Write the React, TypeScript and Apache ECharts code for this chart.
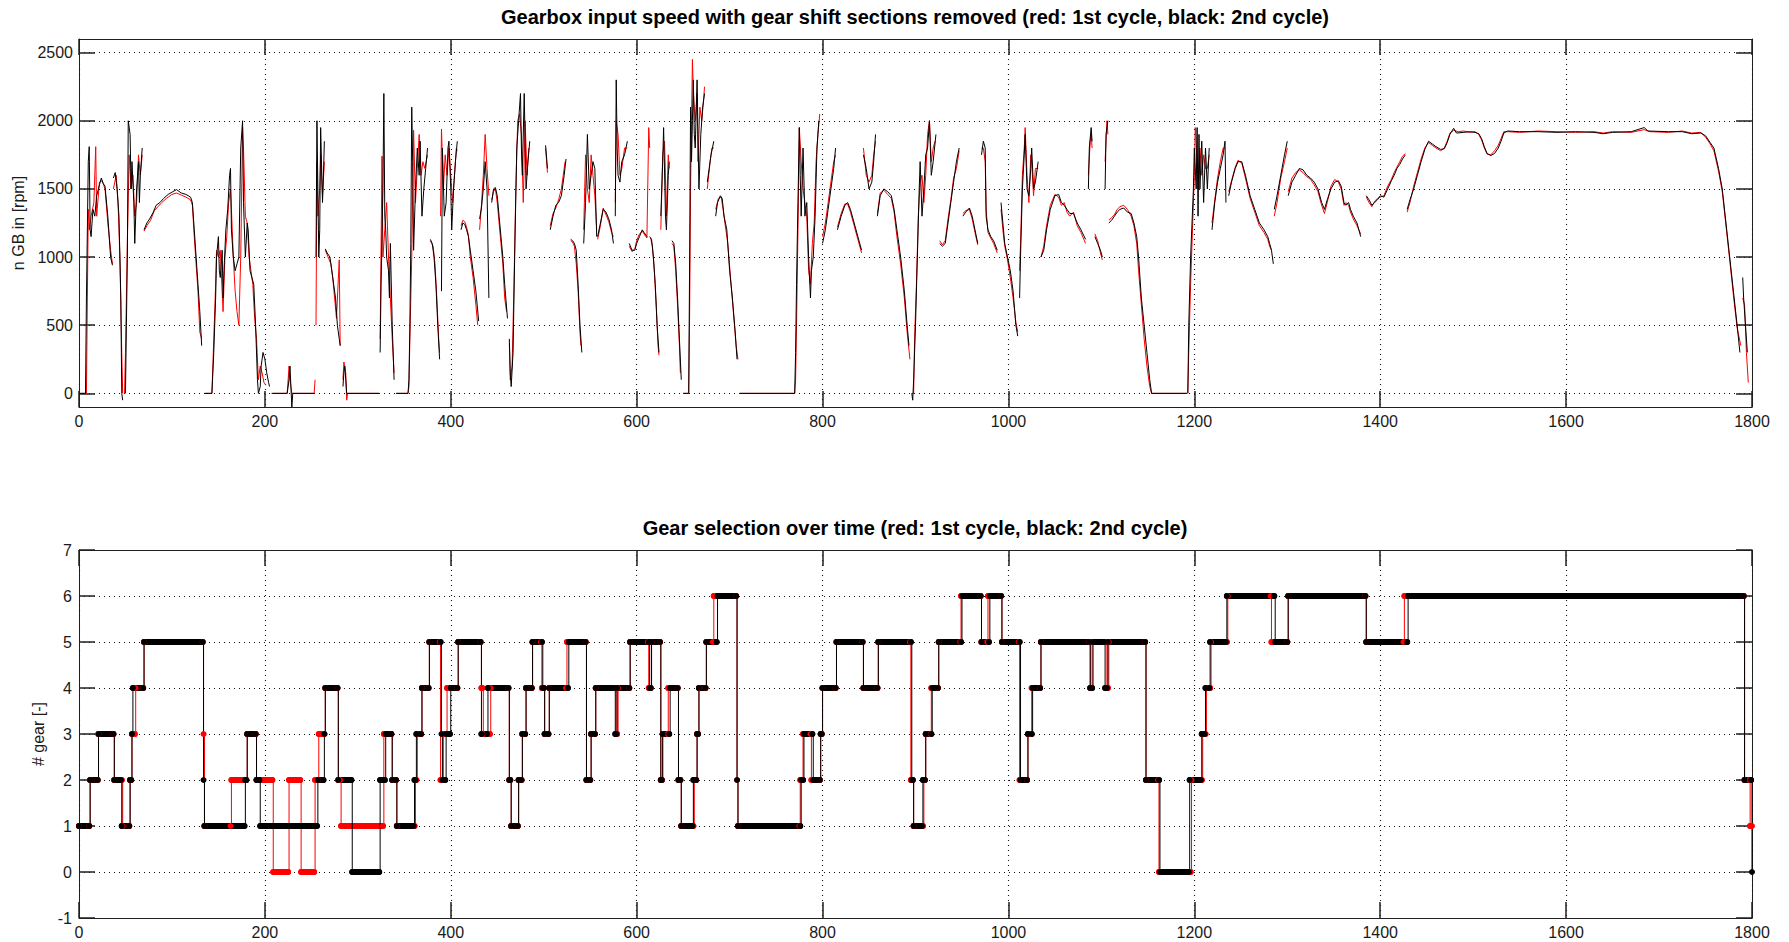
import React, { useEffect, useRef } from 'react';
import * as echarts from 'echarts';

// ---------- DATA ----------
const TIME_TICKS = [0, 200, 400, 600, 800, 1000, 1200, 1400, 1600, 1800];
const SPEED_TICKS = [0, 500, 1000, 1500, 2000, 2500];
const GEAR_TICKS = [-1, 0, 1, 2, 3, 4, 5, 6, 7];

const TITLE_SPEED = 'Gearbox input speed with gear shift sections removed (red: 1st cycle, black: 2nd cycle)';
const TITLE_GEAR = 'Gear selection over time (red: 1st cycle, black: 2nd cycle)';
const NAME_SPEED = 'n GB in [rpm]';
const NAME_GEAR = '# gear [-]';

// gearbox input speed, 2nd cycle (black): segments of [time s, rpm]
const speedCycle2: number[][][] = [
  [[0,0],[7,0],[8,700],[10,1700],[11,1810],[12,1200],[13,1150],[15,1350],[17,1300],[19,1450],[22,1530],[24,1580],[26,1540],[28,1520],[31,1300],[34,1000],[36,940]],
  [[37,1580],[39,1620],[41,1500],[43,1300],[45,700],[46,0],[47,-50]],
  [[50,0],[51,500],[52,1000],[53,2000],[55,1900],[56,1500],[57,1700],[59,1400],[60,1100],[62,1500],[64,1700],[65,1400],[66,1600],[68,1800]],
  [[70,1200],[73,1250],[76,1280],[80,1330],[83,1380],[87,1400],[91,1430],[96,1460],[101,1480],[105,1495],[110,1470],[115,1460],[120,1440],[122,1400],[124,1200],[126,1000],[128,800],[130,600],[132,350]],
  [[135,0],[143,0],[145,300],[147,700],[148,1000],[150,1150],[151,900],[152,850],[154,1050],[155,700],[156,900],[158,1200],[160,1350],[162,1600],[163,1650],[164,1200],[166,1000],[168,900],[170,950],[172,1000],[174,1800],[176,2000],[177,1400],[179,1000],[181,1250],[182,1200],[184,900],[186,850],[188,800],[190,500],[192,100],[193,0],[195,50],[196,200],[198,300],[200,250],[202,150],[204,80],[205,50]],
  [[208,0],[224,0],[226,100],[227,200],[228,50],[229,-100],[230,0],[253,0]],
  [[255,1000],[256,2000],[257,1500],[258,1000],[259,1200],[260,1950],[262,1400],[263,1600],[264,1850]],
  [[265,1060],[267,1030],[270,1000],[272,900],[274,800],[276,700],[278,500],[280,400],[281,350]],
  [[284,50],[285,150],[286,200],[287,100],[288,0],[323,0]],
  [[324,300],[325,800],[327,1500],[328,2200],[329,1300],[330,1200],[331,1000],[333,900],[334,700],[335,1100],[337,500],[339,100]],
  [[341,0],[354,0],[355,100],[356,500],[357,1100],[358,2100],[359,1700],[360,1050],[362,1500],[364,1800],[366,1600],[367,1850],[369,1300],[371,1500],[373,1650],[375,1800]],
  [[378,1130],[380,1100],[382,1000],[384,800],[386,500],[388,250]],
  [[390,750],[391,1800],[393,1300],[395,1400],[397,1800],[398,1850],[400,1500],[401,1200],[403,1500],[405,1700],[407,1850]],
  [[411,1200],[413,1250],[415,1240],[417,1200],[419,1150],[421,1050],[424,900],[427,750],[430,530]],
  [[431,1280],[433,1360],[435,1500],[437,1700],[439,1500],[441,700]],
  [[444,1400],[446,1500],[448,1510],[450,1450],[452,1300],[454,1150],[456,1000],[458,800],[461,550]],
  [[463,400],[464,150],[465,50],[467,300],[469,1100],[471,1800],[473,2000],[475,2200],[476,1800],[477,1600],[479,2200],[481,1500],[483,1700],[485,1850]],
  [[502,1820],[504,1650]],
  [[507,1200],[510,1300],[513,1380],[516,1400],[519,1450],[522,1600],[524,1720]],
  [[529,1130],[531,1120],[533,1100],[535,1050],[537,800],[539,500],[541,300]],
  [[543,1100],[545,1400],[547,1900],[549,1500],[551,1600],[553,1700],[555,1650],[557,1150]],
  [[558,1150],[561,1250],[564,1350],[567,1330],[570,1280],[573,1200],[575,1100]],
  [[577,1300],[578,2300],[579,1800],[580,1600],[582,1550],[584,1700],[587,1750],[590,1850]],
  [[592,1100],[595,1050],[598,1050],[600,1100],[603,1150],[606,1200],[608,1180],[611,1150]],
  [[614,1150],[616,1130],[618,1000],[620,800],[622,500],[624,300]],
  [[626,1300],[628,1700],[629,1950],[631,1300],[632,1200],[634,1600],[635,1700]],
  [[638,1120],[640,1100],[642,950],[644,700],[646,400],[648,100]],
  [[650,0],[656,0],[657,1000],[658,2100],[659,1700],[660,2000],[661,2300],[662,1900],[663,1800],[665,2300],[667,1500],[669,1900],[671,2100],[673,2200]],
  [[676,1550],[678,1650],[680,1750],[683,1850]],
  [[685,1300],[687,1400],[690,1450],[692,1430],[694,1300],[697,1200],[700,900],[703,700],[706,450],[708,250]],
  [[711,0],[770,0],[771,300],[772,800],[773,1200],[775,1950],[776,1600],[777,1300],[779,1800],[781,1300],[783,1400],[785,1000],[787,700],[788,900],[790,1000],[792,1300],[794,1800],[796,2000]],
  [[800,1100],[803,1200],[806,1350],[809,1500],[812,1650],[814,1800]],
  [[816,1200],[820,1300],[824,1380],[827,1400],[830,1350],[834,1250],[838,1150],[842,1050]],
  [[844,1750],[847,1650],[850,1500],[853,1550],[855,1700],[857,1900]],
  [[859,1300],[862,1450],[866,1500],[870,1480],[874,1450],[877,1350],[880,1200],[884,1000],[888,750],[891,500],[893,350]],
  [[896,0],[897,-50],[898,100],[900,500],[902,1000],[904,1500],[905,1700],[907,1300],[909,1500],[911,1750],[913,1800],[915,2000],[917,1600],[919,1700],[922,1900]],
  [[926,1100],[929,1080],[932,1100],[935,1250],[938,1400],[941,1550],[944,1700],[947,1800]],
  [[951,1300],[954,1330],[958,1360],[961,1300],[964,1200],[967,1100]],
  [[971,1750],[973,1850],[975,1800],[976,1300],[978,1200],[981,1150],[984,1120],[988,1050]],
  [[992,1400],[994,1250],[996,1100],[999,1000],[1002,900],[1005,750],[1008,500],[1010,420]],
  [[1012,700],[1013,1000],[1015,1500],[1017,1750],[1018,1900],[1020,1500],[1022,1450],[1024,1650],[1025,1800],[1027,1500],[1029,1550],[1032,1700]],
  [[1035,1000],[1038,1050],[1041,1200],[1045,1350],[1050,1450],[1054,1460],[1057,1400],[1060,1380],[1063,1350],[1066,1320],[1070,1320],[1074,1250],[1078,1200],[1083,1130]],
  [[1086,1500],[1087,1800],[1089,1950],[1090,1850]],
  [[1093,1150],[1096,1100],[1099,1050],[1101,1000]],
  [[1104,1500],[1105,1900],[1107,2000]],
  [[1108,1250],[1111,1270],[1114,1300],[1117,1330],[1120,1350],[1124,1360],[1128,1330],[1132,1320],[1135,1250],[1138,1150],[1140,1000],[1143,700],[1146,500],[1149,300],[1152,100],[1154,0],[1192,0]],
  [[1193,0],[1194,500],[1196,1000],[1199,1500],[1200,1800],[1202,1500],[1203,1950],[1204,1300],[1205,1900],[1206,1500],[1208,1850],[1210,1400],[1212,1800],[1214,1500],[1216,1800]],
  [[1219,1200],[1222,1400],[1225,1550],[1228,1650],[1231,1750],[1233,1850],[1234,1400]],
  [[1237,1450],[1240,1550],[1244,1650],[1247,1700],[1251,1700],[1255,1600],[1260,1450],[1265,1350],[1270,1250],[1275,1200],[1279,1150],[1281,1100],[1283,1050],[1285,950]],
  [[1286,1350],[1289,1450],[1293,1600],[1297,1750],[1300,1850]],
  [[1301,1450],[1305,1550],[1309,1600],[1313,1650],[1317,1640],[1321,1600],[1325,1580],[1329,1550],[1333,1500],[1337,1400],[1340,1350],[1343,1420],[1347,1500],[1351,1550],[1355,1560],[1358,1520],[1361,1400],[1363,1380],[1366,1400],[1368,1350],[1371,1300],[1375,1250],[1379,1150]],
  [[1385,1450],[1388,1420],[1391,1380],[1394,1400],[1397,1420],[1400,1450],[1404,1440],[1408,1500],[1412,1560],[1415,1600],[1418,1650],[1421,1680],[1424,1720],[1427,1750]],
  [[1429,1350],[1432,1420],[1436,1500],[1440,1600],[1444,1700],[1448,1790],[1452,1850],[1456,1830],[1460,1810],[1465,1790],[1469,1795],[1472,1840],[1475,1900],[1479,1945],[1482,1910],[1490,1915],[1496,1920],[1502,1915],[1506,1905],[1509,1870],[1512,1810],[1515,1760],[1519,1745],[1523,1760],[1527,1800],[1530,1850],[1533,1910],[1537,1925],[1550,1920],[1570,1920],[1590,1915],[1610,1920],[1630,1915],[1640,1905],[1650,1915],[1670,1920],[1684,1950],[1688,1925],[1710,1920],[1725,1920],[1735,1905],[1745,1910],[1750,1890],[1755,1840],[1759,1800],[1764,1650],[1768,1500],[1772,1250],[1776,1000],[1780,750],[1784,500],[1787,300]],
  [[1790,850],[1791,700],[1793,500],[1795,300]],
];

// gearbox input speed, 1st cycle (red)
const speedCycle1: number[][][] = [
  [[0,0],[8,0],[9,700],[10,1350],[11,1200],[13,1300],[16,1400],[18,1810],[19,1300],[22,1550],[25,1560],[28,1500],[31,1250],[34,1050],[36,950]],
  [[37,1500],[40,1600],[42,1400],[44,1000],[46,300],[47,0]],
  [[49,0],[50,300],[51,700],[52,1100],[54,1750],[56,1500],[58,1600],[60,1300],[62,1400],[64,1750],[66,1600],[68,1750]],
  [[70,1190],[73,1230],[77,1270],[81,1340],[85,1370],[89,1400],[94,1430],[100,1460],[105,1470],[110,1455],[115,1440],[120,1420],[122,1380],[124,1150],[126,950],[128,750],[130,450],[132,400]],
  [[136,0],[143,0],[145,400],[147,800],[148,1050],[150,1000],[152,1050],[154,750],[155,600],[157,1000],[159,1150],[161,1400],[163,1500],[164,1350],[166,1000],[168,750],[170,600],[172,500],[174,1000],[176,1950],[177,1800],[179,1300],[181,1250],[183,1000],[185,900],[187,800],[189,550],[191,400],[193,100],[195,200],[197,150],[199,80],[201,60]],
  [[207,0],[224,0],[226,200],[227,100],[229,0],[253,0],[254,100]],
  [[255,500],[256,1700],[257,1300],[259,1500],[260,1750],[262,1450],[264,1700]],
  [[265,1050],[268,1000],[271,950],[273,850],[275,700],[277,550],[280,980],[281,350]],
  [[284,100],[285,230],[287,150],[288,-50],[289,0],[323,0]],
  [[324,400],[326,1740],[327,1000],[329,1200],[331,1400],[333,1000],[335,700],[337,400],[339,150]],
  [[342,0],[354,0],[355,50],[356,400],[358,1000],[360,1930],[362,1400],[364,1650],[366,1900],[368,1600],[370,1700],[372,1650],[375,1750]],
  [[378,1120],[381,1080],[383,950],[385,700],[387,400],[388,300]],
  [[389,1300],[390,1940],[392,1500],[394,1750],[396,1600],[398,1800],[400,1600],[402,1400],[404,1600],[406,1800],[407,1780]],
  [[411,1230],[413,1270],[415,1260],[417,1220],[419,1160],[421,1000],[424,850],[427,650],[429,500]],
  [[431,1200],[433,1380],[435,1600],[437,1900],[439,1650],[441,1450]],
  [[444,1420],[446,1480],[448,1500],[450,1400],[452,1250],[454,1100],[456,950],[458,700],[460,600]],
  [[463,370],[464,100],[466,200],[468,800],[470,1500],[472,2000],[474,2050],[476,1900],[478,1400],[480,2000],[482,1600],[484,1800]],
  [[502,1800],[504,1620]],
  [[507,1230],[510,1320],[513,1360],[516,1420],[519,1500],[522,1650],[523,1700]],
  [[529,1120],[531,1110],[533,1080],[535,950],[537,750],[539,450],[540,350]],
  [[543,1200],[545,1750],[547,1500],[549,1400],[551,1750],[553,1600],[555,1450],[557,1200]],
  [[558,1130],[561,1230],[564,1360],[567,1310],[570,1260],[573,1180],[575,1150]],
  [[577,1400],[578,2000],[580,1900],[582,1600],[584,1650],[587,1800],[590,1800]],
  [[592,1080],[595,1040],[598,1060],[600,1120],[603,1170],[606,1190],[609,1160],[611,1140],[613,1950],[614,1800]],
  [[615,1140],[617,1080],[619,900],[621,650],[623,350],[624,280]],
  [[626,1200],[628,1750],[630,1850],[632,1300],[634,1750],[635,1650]],
  [[638,1100],[640,1080],[642,900],[644,650],[646,350],[647,150]],
  [[650,0],[656,0],[657,600],[658,1500],[659,2000],[660,2450],[661,2200],[663,2000],[665,2200],[666,1700],[668,2100],[670,2000],[672,2150],[673,2250]],
  [[676,1500],[679,1700],[681,1800],[683,1800]],
  [[685,1350],[688,1430],[691,1440],[693,1350],[695,1250],[698,1100],[701,850],[704,600],[707,350],[709,250]],
  [[711,0],[770,0],[771,100],[772,500],[774,1400],[775,1950],[777,1700],[779,1500],[781,1400],[783,1300],[785,900],[787,800],[789,1100],[791,1250],[793,1700],[795,1900],[797,2050]],
  [[800,1150],[803,1250],[806,1400],[809,1550],[812,1700],[814,1750]],
  [[816,1220],[820,1320],[824,1390],[827,1390],[830,1330],[834,1230],[838,1130],[842,1030]],
  [[844,1800],[847,1600],[850,1550],[853,1600],[855,1750],[857,1850]],
  [[859,1320],[862,1470],[866,1490],[870,1460],[874,1430],[877,1330],[880,1150],[884,950],[888,700],[891,450],[894,250]],
  [[896,0],[898,0],[899,400],[901,800],[903,1300],[905,1550],[907,1600],[909,1400],[911,1600],[913,1900],[915,2000],[917,1700],[919,1800],[921,1850]],
  [[926,1120],[929,1090],[932,1120],[935,1280],[938,1420],[941,1580],[944,1650],[947,1780]],
  [[951,1320],[954,1340],[958,1350],[961,1280],[964,1180],[967,1090]],
  [[971,1800],[973,1800],[975,1700],[976,1350],[978,1180],[981,1140],[984,1100],[988,1030]],
  [[992,1350],[994,1200],[996,1080],[999,980],[1002,850],[1005,700],[1008,520],[1010,450]],
  [[1012,900],[1013,1100],[1015,1600],[1017,1800],[1018,1950],[1020,1600],[1022,1400],[1024,1750],[1025,1700],[1027,1450],[1029,1650],[1032,1650]],
  [[1035,1000],[1038,1080],[1041,1230],[1045,1380],[1050,1460],[1054,1440],[1057,1380],[1060,1400],[1063,1330],[1066,1300],[1070,1330],[1074,1230],[1078,1180],[1083,1100]],
  [[1086,1600],[1088,1850],[1089,1900],[1090,1800]],
  [[1093,1170],[1096,1120],[1099,1030],[1101,980]],
  [[1104,1700],[1106,2000],[1107,1900]],
  [[1108,1270],[1111,1290],[1114,1310],[1117,1350],[1120,1370],[1124,1380],[1128,1350],[1132,1300],[1135,1230],[1138,1100],[1140,900],[1143,650],[1146,400],[1149,200],[1152,50],[1154,0],[1192,0]],
  [[1193,0],[1194,300],[1196,800],[1198,1200],[1200,1600],[1201,1950],[1203,1700],[1204,1500],[1206,1800],[1208,1600],[1210,1750],[1212,1650],[1214,1650],[1216,1750]],
  [[1219,1250],[1222,1420],[1225,1580],[1228,1700],[1231,1800],[1233,1800]],
  [[1237,1480],[1240,1560],[1244,1660],[1247,1710],[1251,1690],[1255,1580],[1260,1430],[1265,1330],[1270,1230],[1275,1180],[1279,1130],[1281,1080],[1283,1050]],
  [[1286,1300],[1289,1400],[1293,1580],[1297,1700],[1300,1800]],
  [[1301,1480],[1305,1580],[1309,1620],[1313,1640],[1317,1620],[1321,1590],[1325,1570],[1329,1530],[1333,1480],[1337,1380],[1340,1320],[1343,1400],[1347,1520],[1351,1570],[1355,1550],[1358,1500],[1361,1380],[1363,1400],[1366,1380],[1368,1330],[1371,1280],[1375,1230],[1379,1170]],
  [[1385,1440],[1388,1400],[1391,1370],[1394,1410],[1397,1430],[1400,1440],[1404,1450],[1408,1520],[1412,1570],[1415,1620],[1418,1660],[1421,1700],[1424,1740],[1427,1760]],
  [[1429,1330],[1432,1400],[1436,1520],[1440,1620],[1444,1720],[1448,1800],[1452,1840],[1456,1820],[1460,1800],[1465,1780],[1469,1800],[1472,1850],[1475,1910],[1479,1930],[1484,1920],[1490,1925],[1496,1915],[1502,1920],[1506,1900],[1509,1860],[1512,1800],[1515,1755],[1519,1750],[1523,1780],[1527,1820],[1530,1870],[1533,1920],[1537,1920],[1550,1915],[1570,1925],[1590,1920],[1610,1915],[1630,1920],[1640,1910],[1650,1920],[1670,1915],[1684,1935],[1690,1920],[1710,1915],[1725,1925],[1735,1910],[1745,1915],[1750,1880],[1755,1830],[1759,1780],[1764,1630],[1768,1480],[1772,1230],[1776,980],[1780,720],[1784,480],[1788,350]],
  [[1790,700],[1792,650],[1794,300],[1796,80]],
];

// gear selection: [time s where the gear starts, gear]
const gearCycle2: number[][] = [
  [0,1],[12,2],[21,3],[38,2],[46,1],[55,2],[57,3],[58,4],[70,5],[134,2],[135,1],[179,2],[181,3],[191,2],[195,1],
  [257,2],[264,3],[265,4],[279,2],[294,0],[324,2],[330,3],[337,2],[342,1],[361,2],[363,3],[369,4],[377,5],[390,3],[391,2],
  [395,3],[400,4],[408,5],[433,3],[440,4],[463,2],[465,1],[473,2],[477,3],[481,4],[488,5],[499,4],[501,3],[506,4],[527,5],
  [546,2],[551,3],[556,4],[577,3],[579,4],[593,5],[614,4],[616,5],[626,2],[628,3],[636,4],[645,2],[648,1],[661,2],[665,3],
  [667,4],[675,5],[687,6],[708,2],[709,1],[777,2],[780,3],[790,2],[798,3],[800,4],[815,5],[844,4],[860,5],[896,2],[898,1],
  [908,2],[911,3],[918,4],[925,5],[950,6],[971,5],[980,6],[993,5],[1013,2],[1021,3],[1026,4],[1035,5],[1088,4],[1091,5],
  [1104,4],[1107,5],[1148,2],[1163,0],[1195,2],[1208,3],[1212,4],[1217,5],[1235,6],[1287,5],[1301,6],[1385,5],[1430,6],
  [1792,2],[1800,0],
];
const gearCycle1: number[][] = [
  [0,1],[12,2],[21,3],[38,2],[47,1],[55,2],[57,3],[61,4],[70,5],[134,3],[135,1],[164,2],[181,3],[191,2],[209,0],[226,2],
  [239,0],[254,2],[258,3],[265,4],[279,2],[282,1],[328,3],[337,2],[342,1],[362,2],[364,3],[369,4],[377,5],[389,2],[392,3],
  [396,4],[408,5],[433,4],[435,3],[443,4],[463,2],[465,1],[473,2],[477,3],[481,4],[488,5],[498,4],[501,3],[506,4],[525,5],
  [546,2],[551,3],[556,4],[578,3],[580,4],[593,5],[613,4],[616,5],[626,2],[628,3],[634,4],[645,2],[648,1],[662,2],[665,3],
  [667,4],[675,5],[683,6],[708,2],[709,1],[776,2],[779,3],[788,2],[798,3],[800,4],[815,5],[844,4],[860,5],[895,2],[898,1],
  [909,2],[911,3],[917,4],[925,5],[949,6],[971,5],[978,6],[993,5],[1012,2],[1021,3],[1025,4],[1035,5],[1088,4],[1090,5],
  [1106,4],[1108,5],[1148,2],[1162,0],[1197,2],[1209,3],[1213,4],[1218,5],[1236,6],[1283,5],[1301,6],[1385,5],[1426,6],
  [1792,2],[1798,1],[1800,1],
];

// ---------- helpers (turn the lists above into series data) ----------
function joinSegments(segs: number[][][]) {
  const out: any[] = [];
  segs.forEach((s, i) => {
    if (i > 0) out.push([s[0][0], '-']);
    s.forEach((p) => out.push([p[0], p[1]]));
  });
  return out;
}
function holdBands(steps: number[][]) {
  const out: any[] = [];
  steps.forEach((p, i) => {
    const end = i < steps.length - 1 ? steps[i + 1][0] - 1 : p[0];
    if (i > 0) out.push([p[0], '-']);
    out.push([p[0], p[1]]);
    if (end > p[0]) out.push([end, p[1]]);
  });
  return out;
}

const FONT = "'Liberation Sans', Arial, Helvetica, sans-serif";
const AXIS_COLOR = '#1f1f1f';
const LABEL_COLOR = '#1a1a1a';
const GRID_LINE = { show: true, lineStyle: { color: '#111111', type: [1, 4], width: 1.1 } };
const plain = (v: number) => String(v);

function xAxes(gridIndex: number) {
  const common = {
    type: 'value', gridIndex, min: TIME_TICKS[0], max: TIME_TICKS[TIME_TICKS.length - 1], interval: 200,
    axisLine: { show: true, onZero: false, lineStyle: { color: AXIS_COLOR, width: 1 } },
    axisTick: { show: true, inside: true, length: 16, lineStyle: { color: AXIS_COLOR, width: 1.5 } },
  };
  return [
    { ...common, position: 'bottom',
      axisLabel: { show: true, margin: 6, fontSize: 16, color: LABEL_COLOR, fontFamily: FONT, formatter: plain },
      splitLine: GRID_LINE },
    { ...common, position: 'top', axisLabel: { show: false }, splitLine: { show: false } },
  ];
}

export default function App() {
  const ref = useRef<HTMLDivElement>(null);
  useEffect(() => {
    document.body.style.margin = '0';
    document.body.style.overflow = 'hidden';
    if (!ref.current) return;
    const chart = echarts.init(ref.current, null, { renderer: 'svg' });
    const tickCommon = { show: true, inside: true, length: 16, lineStyle: { color: AXIS_COLOR, width: 1.5 } };
    const lineCommon = { show: true, onZero: false, lineStyle: { color: AXIS_COLOR, width: 1 } };
    const option: any = {
      animation: false,
      backgroundColor: '#ffffff',
      grid: [
        { left: 79, top: 39, width: 1673, height: 368 },
        { left: 79, top: 550, width: 1673, height: 368 },
      ],
      graphic: [
        { type: 'text', x: 915, y: 17, silent: true,
          style: { text: TITLE_SPEED, font: `bold 20px ${FONT}`, fill: '#000', align: 'center', verticalAlign: 'middle', textAlign: 'center', textVerticalAlign: 'middle' } },
        { type: 'text', x: 915, y: 528, silent: true,
          style: { text: TITLE_GEAR, font: `bold 20px ${FONT}`, fill: '#000', align: 'center', verticalAlign: 'middle', textAlign: 'center', textVerticalAlign: 'middle' } },
      ],
      xAxis: [...xAxes(0), ...xAxes(1)],
      yAxis: [
        { type: 'value', gridIndex: 0, position: 'left', min: -100, max: 2600,
          name: NAME_SPEED, nameLocation: 'middle', nameGap: 50, nameRotate: 90,
          nameTextStyle: { fontSize: 16, color: LABEL_COLOR, fontFamily: FONT },
          axisLine: lineCommon,
          axisTick: { ...tickCommon, customValues: SPEED_TICKS },
          axisLabel: { show: true, margin: 6, fontSize: 16, color: LABEL_COLOR, fontFamily: FONT, customValues: SPEED_TICKS, formatter: plain },
          splitLine: GRID_LINE },
        { type: 'value', gridIndex: 0, position: 'right', min: -100, max: 2600,
          axisLine: lineCommon,
          axisTick: { ...tickCommon, customValues: SPEED_TICKS },
          axisLabel: { show: false }, splitLine: { show: false } },
        { type: 'value', gridIndex: 1, position: 'left', min: GEAR_TICKS[0], max: GEAR_TICKS[GEAR_TICKS.length - 1], interval: 1,
          name: NAME_GEAR, nameLocation: 'middle', nameGap: 29, nameRotate: 90,
          nameTextStyle: { fontSize: 16, color: LABEL_COLOR, fontFamily: FONT },
          axisLine: lineCommon, axisTick: tickCommon,
          axisLabel: { show: true, margin: 7, fontSize: 16, color: LABEL_COLOR, fontFamily: FONT, formatter: plain },
          splitLine: GRID_LINE },
        { type: 'value', gridIndex: 1, position: 'right', min: GEAR_TICKS[0], max: GEAR_TICKS[GEAR_TICKS.length - 1], interval: 1,
          axisLine: lineCommon, axisTick: tickCommon,
          axisLabel: { show: false }, splitLine: { show: false } },
      ],
      series: [
        { name: '1st cycle speed', type: 'line', xAxisIndex: 0, yAxisIndex: 0, data: joinSegments(speedCycle1),
          showSymbol: false, connectNulls: false, silent: true, lineStyle: { color: '#ff0000', width: 1 } },
        { name: '2nd cycle speed', type: 'line', xAxisIndex: 0, yAxisIndex: 0, data: joinSegments(speedCycle2),
          showSymbol: false, connectNulls: false, silent: true, lineStyle: { color: '#000000', width: 1 } },
        { name: '1st cycle gear', type: 'line', step: 'end', xAxisIndex: 2, yAxisIndex: 2, data: gearCycle1,
          showSymbol: false, silent: true, lineStyle: { color: '#ff0000', width: 1 } },
        { name: '1st cycle gear hold', type: 'line', xAxisIndex: 2, yAxisIndex: 2, data: holdBands(gearCycle1),
          showSymbol: true, symbol: 'circle', symbolSize: 6, connectNulls: false, silent: true,
          itemStyle: { color: '#ff0000' }, lineStyle: { color: '#ff0000', width: 6, cap: 'round' } },
        { name: '2nd cycle gear', type: 'line', step: 'end', xAxisIndex: 2, yAxisIndex: 2, data: gearCycle2,
          showSymbol: false, silent: true, lineStyle: { color: '#000000', width: 1 } },
        { name: '2nd cycle gear hold', type: 'line', xAxisIndex: 2, yAxisIndex: 2, data: holdBands(gearCycle2),
          showSymbol: true, symbol: 'circle', symbolSize: 6, connectNulls: false, silent: true,
          itemStyle: { color: '#000000' }, lineStyle: { color: '#000000', width: 6, cap: 'round' } },
      ],
    };
    chart.setOption(option);
    return () => chart.dispose();
  }, []);
  return <div ref={ref} style={{ width: 1789, height: 942 }} />;
}
